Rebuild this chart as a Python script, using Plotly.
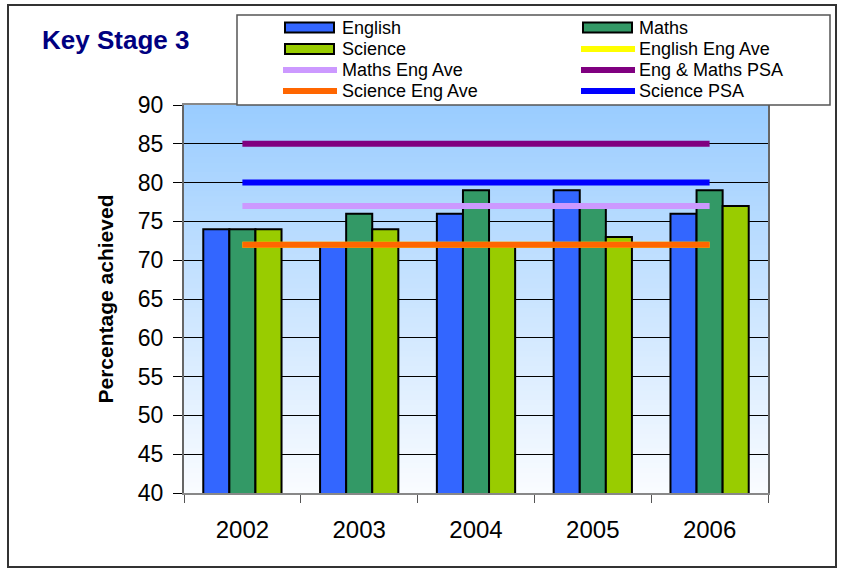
import plotly.graph_objects as go

# ---- data -------------------------------------------------------------
years = ["2002", "2003", "2004", "2005", "2006"]

english = [74, 72, 76, 79, 76]
maths = [74, 76, 79, 77, 79]
science = [74, 74, 72, 73, 77]

english_eng_ave = [72, 72, 72, 72, 72]
maths_eng_ave = [77, 77, 77, 77, 77]
eng_maths_psa = [85, 85, 85, 85, 85]
science_eng_ave = [72, 72, 72, 72, 72]
science_psa = [80, 80, 80, 80, 80]

bar_series = [
    ("English", english, "#3366FF"),
    ("Maths", maths, "#339966"),
    ("Science", science, "#99CC00"),
]
line_series = [
    ("English Eng Ave", english_eng_ave, "#FFFF00"),
    ("Maths Eng Ave", maths_eng_ave, "#CC99FF"),
    ("Eng & Maths PSA", eng_maths_psa, "#800080"),
    ("Science Eng Ave", science_eng_ave, "#FF6600"),
    ("Science PSA", science_psa, "#0000FF"),
]

FONT = "Arial, 'Liberation Sans', sans-serif"

# ---- page geometry (pixels) ------------------------------------------
W, H = 843, 572
PL, PR, PT, PB = 184, 768, 105, 493  # plot area edges


def px(x):
    return (x - PL) / (PR - PL)


def py(y):
    return (PB - y) / (PB - PT)


fig = go.Figure()

for name, vals, col in bar_series:
    fig.add_trace(go.Bar(
        x=years, y=vals, name=name,
        marker=dict(color=col, line=dict(color="black", width=2)),
        showlegend=False,
    ))

for name, vals, col in line_series:
    fig.add_trace(go.Scatter(
        x=years, y=vals, name=name, mode="lines",
        line=dict(color=col, width=6),
        showlegend=False,
    ))

shapes = []
annotations = []

# vertical gradient behind the plot area
top_rgb = (153, 204, 255)
bot_rgb = (250, 252, 255)
n = 80
for i in range(n):
    t = (i + 0.5) / n
    r = round(top_rgb[0] + (bot_rgb[0] - top_rgb[0]) * t)
    g = round(top_rgb[1] + (bot_rgb[1] - top_rgb[1]) * t)
    b = round(top_rgb[2] + (bot_rgb[2] - top_rgb[2]) * t)
    shapes.append(dict(
        type="rect", xref="x domain", yref="y domain", layer="below",
        x0=0, x1=1, y0=1 - (i + 1) / n, y1=1 - i / n + 0.002,
        fillcolor=f"rgb({r},{g},{b})", line=dict(width=0),
    ))

# outer frame
shapes.append(dict(
    type="rect", xref="paper", yref="paper",
    x0=px(8), x1=px(836), y0=py(567), y1=py(5),
    line=dict(color="#333333", width=2), fillcolor="rgba(0,0,0,0)",
))

# legend box
shapes.append(dict(
    type="rect", xref="paper", yref="paper",
    x0=px(237), x1=px(830), y0=py(105), y1=py(15),
    line=dict(color="#555555", width=1.5), fillcolor="white",
))

# legend entries, two per row
entries = [(nm, col, "bar") for nm, _, col in bar_series] + \
          [(nm, col, "line") for nm, _, col in line_series]
col_sym_x = [284, 582]
col_txt_x = [340, 637]
sym_w = 51
row_y = [27.5, 49, 70, 91]
for k, (nm, col, kind) in enumerate(entries):
    c = k % 2
    r = k // 2
    x0 = col_sym_x[c]
    yc = row_y[r]
    if kind == "bar":
        shapes.append(dict(
            type="rect", xref="paper", yref="paper",
            x0=px(x0 + 1), x1=px(x0 + sym_w - 1), y0=py(yc + 5), y1=py(yc - 5),
            fillcolor=col, line=dict(color="black", width=2),
        ))
    else:
        shapes.append(dict(
            type="line", xref="paper", yref="paper",
            x0=px(x0 - 1), x1=px(x0 + sym_w + 2), y0=py(yc), y1=py(yc),
            line=dict(color=col, width=6),
        ))
    annotations.append(dict(
        text=nm, xref="paper", yref="paper", x=px(col_txt_x[c]), y=py(yc),
        xanchor="left", yanchor="middle", showarrow=False,
        font=dict(family=FONT, size=18, color="black"),
    ))

# chart title
annotations.append(dict(
    text="<b>Key Stage 3</b>", xref="paper", yref="paper",
    x=px(40), y=py(40), xanchor="left", yanchor="middle", showarrow=False,
    font=dict(family=FONT, size=26, color="#000080"),
))

fig.update_layout(
    width=W, height=H,
    margin=dict(l=PL, r=W - PR, t=PT, b=H - PB, pad=0),
    paper_bgcolor="white",
    plot_bgcolor="white",
    barmode="group",
    bargap=0.33,
    bargroupgap=0,
    showlegend=False,
    font=dict(family=FONT, color="black"),
    shapes=shapes,
    annotations=annotations,
)

fig.update_xaxes(
    type="category",
    showgrid=False,
    showline=True, linecolor="#888888", linewidth=2, mirror=True,
    ticks="outside", tickson="boundaries", ticklen=8, tickcolor="#555555",
    tickfont=dict(family=FONT, size=24),
    ticklabelstandoff=14,
    automargin=False,
)

fig.update_yaxes(
    range=[40, 90], dtick=5, tick0=40,
    showgrid=True, gridcolor="black", gridwidth=1,
    showline=True, linecolor="#666666", linewidth=2, mirror=True,
    ticks="outside", ticklen=9, tickcolor="black",
    tickfont=dict(family=FONT, size=23),
    ticklabelstandoff=5,
    title=dict(text="<b>Percentage achieved</b>", standoff=18,
               font=dict(family=FONT, size=21)),
    automargin=False,
    zeroline=False,
)

fig.write_html("out.html")
